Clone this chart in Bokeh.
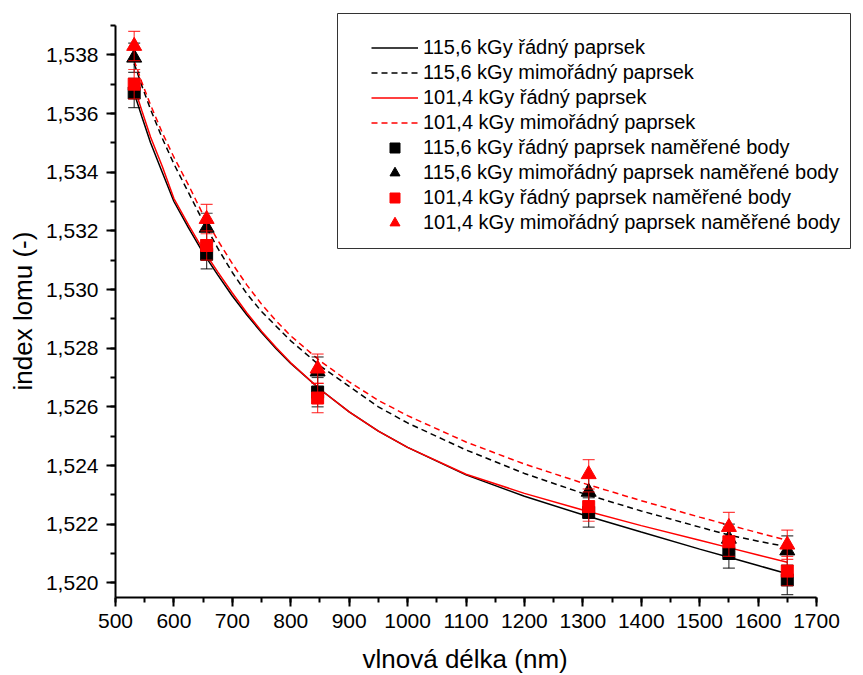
from bokeh.plotting import figure
from bokeh.models import (Range1d, SingleIntervalTicker, CustomJSTickFormatter,
                          Legend, LegendItem, ColumnDataSource, Title, BoxAnnotation)
from bokeh.embed import file_html
from bokeh.resources import INLINE

FONT = "Liberation Sans"

# measured wavelengths (nm) and refractive indices
wavelength = [532, 656, 846, 1310, 1550, 1650]
n_o_1156 = [1.5367, 1.5312, 1.5265, 1.5224, 1.5210, 1.5201]
n_e_1156 = [1.5379, 1.5321, 1.5272, 1.5231, 1.5215, 1.5211]
n_o_1014 = [1.5370, 1.5315, 1.5263, 1.5226, 1.5214, 1.5204]
n_e_1014 = [1.5383, 1.5324, 1.5273, 1.5237, 1.5219, 1.5213]
err_o_1156 = [0.0005, 0.0005, 0.0005, 0.0005, 0.0005, 0.0005]
err_e_1156 = [0.0005, 0.0005, 0.0005, 0.0005, 0.0005, 0.0005]
err_o_1014 = [0.0005, 0.0005, 0.0005, 0.0005, 0.0005, 0.0005]
err_e_1014 = [0.0005, 0.0005, 0.0005, 0.0005, 0.0005, 0.0005]

# fitted dispersion curves
lam_fit = [532, 545, 560, 580, 600, 625, 650, 675, 700, 725, 750, 775, 800,
           850, 900, 950, 1000, 1100, 1200, 1300, 1400, 1500, 1550, 1600, 1650]
fit_o_1156 = [1.5367, 1.5359, 1.5350, 1.5340, 1.5330, 1.5321, 1.53125, 1.5305, 1.52978,
              1.52913, 1.52853, 1.52798, 1.52748, 1.52660, 1.52583, 1.52517, 1.52462,
              1.52368, 1.52295, 1.52232, 1.52173, 1.52115, 1.52087, 1.52059, 1.52031]
fit_e_1156 = [1.5377, 1.53695, 1.53614, 1.53516, 1.53428, 1.5333, 1.53232, 1.53141, 1.53058,
              1.52985, 1.52925, 1.52875, 1.52825, 1.5274, 1.5267, 1.5260, 1.52545,
              1.52453, 1.52373, 1.52305, 1.52245, 1.5219, 1.52163, 1.52142, 1.52123]
fit_o_1014 = [1.5369, 1.5361, 1.5352, 1.5342, 1.5331, 1.5322, 1.53135, 1.5306, 1.52988,
              1.5292, 1.52858, 1.52802, 1.5275, 1.5266, 1.52583, 1.52517, 1.52462,
              1.5237, 1.52305, 1.52248, 1.52195, 1.52145, 1.5212, 1.52095, 1.5207]
fit_e_1014 = [1.5378, 1.53707, 1.53629, 1.53535, 1.53451, 1.53356, 1.53255, 1.53168, 1.53088,
              1.53015, 1.5295, 1.52893, 1.52842, 1.52757, 1.52685, 1.52622, 1.5257,
              1.5248, 1.52405, 1.5234, 1.5228, 1.52224, 1.52197, 1.52171, 1.52145]

labels_lines = ["115,6 kGy řádný paprsek", "115,6 kGy mimořádný paprsek",
                "101,4 kGy řádný paprsek", "101,4 kGy mimořádný paprsek"]
labels_points = ["115,6 kGy řádný paprsek naměřené body",
                 "115,6 kGy mimořádný paprsek naměřené body",
                 "101,4 kGy řádný paprsek naměřené body",
                 "101,4 kGy mimořádný paprsek naměřené body"]
x_title = "vlnová délka (nm)"
y_title = "index lomu (-)"

# axis extents; the frame is a little larger so the legend fits inside it
X_LO, X_HI = 500, 1700
Y_LO, Y_HI = 1.5195, 1.539
AXIS_W, AXIS_H = 701, 572          # pixel length of the drawn axes
FRAME_W, FRAME_H = 748, 587
x_end = X_LO + FRAME_W * (X_HI - X_LO) / AXIS_W
y_end = Y_LO + FRAME_H * (Y_HI - Y_LO) / AXIS_H

p = figure(frame_width=FRAME_W, frame_height=FRAME_H,
           x_range=Range1d(X_LO, x_end), y_range=Range1d(Y_LO, y_end),
           output_backend="svg", toolbar_location=None,
           min_border_left=115, min_border_right=0,
           min_border_top=10, min_border_bottom=78)
p.xgrid.visible = False
p.ygrid.visible = False
p.outline_line_color = None
p.background_fill_color = "white"

p.xaxis.ticker = SingleIntervalTicker(interval=100, num_minor_ticks=2)
p.yaxis.ticker = SingleIntervalTicker(interval=0.002, num_minor_ticks=2)
p.xaxis.bounds = (X_LO, X_HI)
p.yaxis.bounds = (Y_LO, Y_HI)
p.yaxis.formatter = CustomJSTickFormatter(code="return tick.toFixed(3).replace('.', ',');")

for ax in (p.xaxis[0], p.yaxis[0]):
    ax.axis_line_width = 2
    ax.axis_line_color = "black"
    ax.major_tick_line_width = 2
    ax.minor_tick_line_width = 2
    ax.major_tick_line_color = "black"
    ax.minor_tick_line_color = "black"
    ax.major_tick_in = 0
    ax.major_tick_out = 9
    ax.minor_tick_in = 0
    ax.minor_tick_out = 5
    ax.major_label_text_font = FONT
    ax.major_label_text_font_size = "21px"
    ax.major_label_text_color = "black"
p.xaxis.major_label_standoff = 7
p.yaxis.major_label_standoff = 8

# axis titles centred on the drawn axis lines (not on the wider frame)
p.add_layout(Title(text=x_title, align="left", offset=247, standoff=23,
                   text_font=FONT, text_font_size="26px",
                   text_font_style="normal", text_color="black"), "below")
p.add_layout(Title(text=y_title, align="left", offset=207, standoff=10,
                   text_font=FONT, text_font_size="26px",
                   text_font_style="normal", text_color="black"), "left")

# fitted curves
line_specs = [(fit_o_1156, "black", "solid"), (fit_e_1156, "black", "6 4"),
              (fit_o_1014, "red", "solid"), (fit_e_1014, "red", "6 4")]
line_renderers = []
for ys, col, dash in line_specs:
    r = p.line(lam_fit, ys, line_color=col, line_width=1.5, line_dash=dash)
    line_renderers.append(r)

# measured points with error bars
point_specs = [(n_o_1156, err_o_1156, "black", "square", 12),
               (n_e_1156, err_e_1156, "black", "triangle", 15),
               (n_o_1014, err_o_1014, "red", "square", 12),
               (n_e_1014, err_e_1014, "red", "triangle", 15)]
point_renderers = []
for ys, errs, col, marker, size in point_specs:
    src = ColumnDataSource(dict(
        x=wavelength, y=ys,
        lo=[v - e for v, e in zip(ys, errs)],
        hi=[v + e for v, e in zip(ys, errs)]))
    bar_alpha = 0.75
    p.segment(x0="x", y0="lo", x1="x", y1="hi", source=src,
              line_color=col, line_width=1.2, line_alpha=bar_alpha)
    p.scatter("x", "lo", source=src, marker="dash", size=12,
              line_color=col, line_width=1.2, line_alpha=bar_alpha)
    p.scatter("x", "hi", source=src, marker="dash", size=12,
              line_color=col, line_width=1.2, line_alpha=bar_alpha)
    r = p.scatter("x", "y", source=src, marker=marker, size=size,
                  fill_color=col, line_color=col)
    point_renderers.append(r)

# legend frame (canvas pixels) and the legend inside it
legend_box = BoxAnnotation(left=337, right=850, top=13, bottom=248,
                           left_units="canvas", right_units="canvas",
                           top_units="canvas", bottom_units="canvas",
                           fill_color="white", fill_alpha=1.0,
                           line_color="#333333", line_width=1, line_alpha=1.0)
p.add_layout(legend_box)

items = [LegendItem(label=lab, renderers=[r])
         for lab, r in zip(labels_lines + labels_points, line_renderers + point_renderers)]
legend = Legend(items=items, location=(236, 342), margin=0,
                padding=20, spacing=0, glyph_width=47, glyph_height=25,
                label_height=25, label_width=408, label_standoff=5,
                label_text_font=FONT, label_text_font_size="20px",
                label_text_color="black",
                border_line_color="white", border_line_alpha=0.0,
                background_fill_color="white", background_fill_alpha=0.0)
p.add_layout(legend)

open("out.html", "w").write(file_html(p, INLINE))
